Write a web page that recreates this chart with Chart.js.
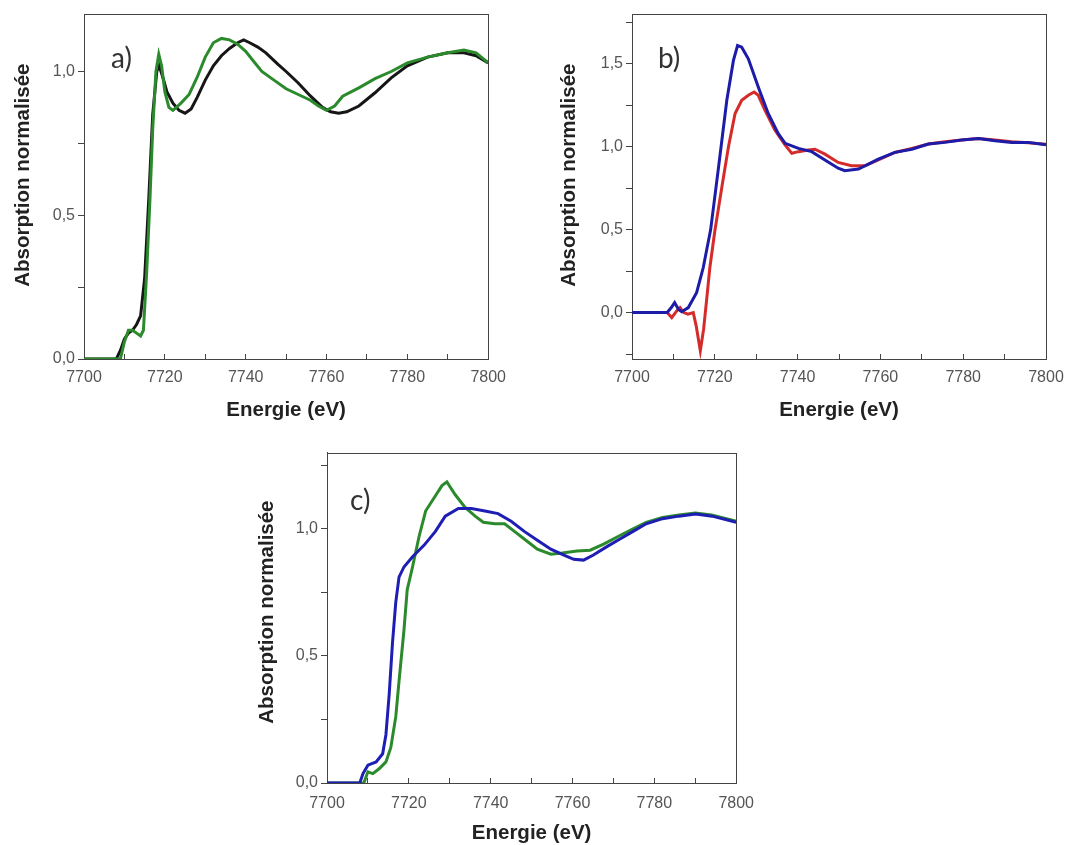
<!DOCTYPE html>
<html>
<head>
<meta charset="utf-8">
<script src="https://cdn.jsdelivr.net/npm/chart.js@4.4.0/dist/chart.umd.min.js"></script>
<style>
  body { margin: 0; background: #fff; width: 1085px; height: 845px; overflow: hidden; position: relative; }
  canvas { position: absolute; }
</style>
</head>
<body>
<canvas id="chartA" width="520" height="430" style="left:0;top:0"></canvas>
<canvas id="chartB" width="540" height="430" style="left:545px;top:0"></canvas>
<canvas id="chartC" width="530" height="405" style="left:240px;top:440px"></canvas>
<script>
// tick values
const energyTicks = [7700, 7710, 7720, 7730, 7740, 7750, 7760, 7770, 7780, 7790, 7800];
const yTicksA = [0, 0.25, 0.5, 0.75, 1.0];
const yTicksB = [-0.25, 0, 0.25, 0.5, 0.75, 1.0, 1.25, 1.5, 1.75];
const yTicksC = [0, 0.25, 0.5, 0.75, 1.0, 1.25];

// a) black and green spectra
const energyA_black = [7700, 7708, 7709, 7710, 7711, 7712, 7713, 7714, 7715, 7716, 7717, 7718, 7718.6, 7719.5, 7720.5, 7722, 7723.5, 7725, 7726.5, 7728, 7730, 7732, 7734, 7736, 7738, 7739.5, 7741, 7743, 7745, 7748, 7750, 7753, 7756, 7759, 7761, 7763, 7765, 7768, 7772, 7776, 7780, 7785, 7790, 7794, 7797, 7800];
const absA_black = [0, 0, 0.03, 0.07, 0.09, 0.1, 0.12, 0.15, 0.28, 0.55, 0.85, 1.0, 1.02, 0.98, 0.93, 0.89, 0.865, 0.855, 0.87, 0.91, 0.97, 1.02, 1.055, 1.08, 1.1, 1.11, 1.1, 1.085, 1.065, 1.025, 1.0, 0.96, 0.915, 0.875, 0.86, 0.855, 0.86, 0.88, 0.926, 0.978, 1.02, 1.05, 1.065, 1.065, 1.055, 1.03];
const energyA_green = [7700, 7709, 7710, 7711, 7712, 7713, 7714, 7714.7, 7715.5, 7716.3, 7717, 7717.8, 7718.5, 7719.2, 7720, 7721, 7722, 7724, 7726, 7728, 7730, 7732, 7734, 7736, 7738, 7740, 7742, 7744, 7747, 7750, 7753, 7756, 7758, 7760, 7762, 7764, 7768, 7772, 7776, 7780, 7785, 7790, 7794, 7797, 7800];
const absA_green = [0, 0, 0.06, 0.1, 0.1, 0.09, 0.08, 0.1, 0.3, 0.55, 0.8, 1.0, 1.06, 1.02, 0.93, 0.875, 0.865, 0.89, 0.92, 0.98, 1.05, 1.1, 1.115, 1.11, 1.095, 1.07, 1.035, 1.0, 0.97, 0.94, 0.92, 0.9, 0.88, 0.865, 0.88, 0.914, 0.943, 0.975, 1.0, 1.03, 1.05, 1.065, 1.075, 1.065, 1.03];

// b) blue and red spectra
const energyB_blue = [7700, 7708.5, 7709.5, 7710.3, 7711.2, 7712, 7713.6, 7715.6, 7717.2, 7719, 7720.9, 7722.9, 7724.5, 7725.5, 7726.5, 7728.1, 7730.5, 7732.9, 7735.3, 7737, 7740.2, 7743.4, 7746.6, 7749.8, 7751.4, 7754.7, 7759.5, 7763.5, 7767.6, 7771.6, 7775.6, 7779.6, 7783.7, 7787.7, 7791.7, 7795.7, 7800];
const absB_blue = [0, 0, 0.03, 0.06, 0.02, 0.005, 0.03, 0.12, 0.27, 0.5, 0.875, 1.28, 1.52, 1.61, 1.6, 1.53, 1.36, 1.2, 1.08, 1.02, 0.99, 0.97, 0.92, 0.87, 0.855, 0.865, 0.925, 0.966, 0.985, 1.016, 1.026, 1.04, 1.05, 1.036, 1.026, 1.026, 1.012];
const energyB_red = [7700, 7708.5, 7709.6, 7710.8, 7711.6, 7712.5, 7713.5, 7714.8, 7715.5, 7716.5, 7717.3, 7718.2, 7718.8, 7720, 7721.7, 7723.3, 7724.9, 7726.5, 7728.1, 7729.5, 7730.5, 7732.1, 7734.5, 7737, 7738.6, 7740.2, 7742.6, 7744.2, 7746.6, 7749.8, 7753, 7756.3, 7759.5, 7763.5, 7767.6, 7771.6, 7775.6, 7779.6, 7783.7, 7787.7, 7791.7, 7795.7, 7800];
const absB_red = [0, 0, -0.03, 0.01, 0.03, 0.0, -0.01, 0.0, -0.08, -0.23, -0.1, 0.12, 0.27, 0.49, 0.755, 1.0, 1.2, 1.28, 1.31, 1.33, 1.31, 1.22, 1.1, 1.01, 0.96, 0.97, 0.98, 0.985, 0.955, 0.905, 0.885, 0.885, 0.92, 0.965, 0.99, 1.016, 1.03, 1.04, 1.05, 1.04, 1.03, 1.024, 1.015];

// c) blue and green spectra
const energyC_blue = [7700, 7708, 7708.8, 7710, 7712, 7713.6, 7714.4, 7715.2, 7716, 7716.8, 7717.6, 7718.8, 7720.9, 7723.7, 7726.5, 7728.9, 7732.1, 7735.3, 7738.6, 7741.8, 7745, 7748.2, 7751.4, 7754.7, 7757.9, 7760.3, 7762.7, 7765.1, 7768.4, 7771.6, 7774.8, 7778, 7782, 7786, 7790.1, 7794.1, 7800];
const absC_blue = [0, 0, 0.037, 0.07, 0.083, 0.115, 0.19, 0.35, 0.55, 0.71, 0.81, 0.85, 0.89, 0.935, 0.99, 1.05, 1.08, 1.08, 1.07, 1.06, 1.03, 0.99, 0.955, 0.92, 0.897, 0.88, 0.877, 0.897, 0.93, 0.96, 0.99, 1.02, 1.04, 1.05, 1.058, 1.05, 1.026];
const energyC_green = [7700, 7709, 7710, 7711.2, 7712.8, 7714.4, 7715.6, 7716.8, 7717.6, 7718.8, 7719.6, 7720.9, 7722.5, 7724.1, 7726.5, 7728.1, 7729.3, 7731.3, 7733.7, 7736.2, 7738.2, 7741, 7743.4, 7745.8, 7748.2, 7751.4, 7754.7, 7757.5, 7761.1, 7764.3, 7767.6, 7771.6, 7774.8, 7778, 7782, 7786, 7790, 7794, 7800];
const absC_green = [0, 0, 0.044, 0.037, 0.057, 0.083, 0.14, 0.26, 0.4, 0.6, 0.76, 0.85, 0.97, 1.07, 1.13, 1.17, 1.185, 1.135, 1.085, 1.05, 1.026, 1.02, 1.02, 0.99, 0.96, 0.92, 0.9, 0.905, 0.913, 0.916, 0.94, 0.974, 1.0, 1.025, 1.045, 1.055, 1.062, 1.055, 1.03];

const FONT = "'Liberation Sans', Arial, sans-serif";

function pts(xs, ys) {
    return xs.map((x, i) => ({ x: x, y: ys[i] }));
}

function line(xs, ys, color) {
    return {
        data: pts(xs, ys),
        borderColor: color,
        borderWidth: 3,
        pointRadius: 0,
        showLine: true,
        tension: 0
    };
}

// box around plot + panel letter
const panelFrame = {
    id: 'panelFrame',
    beforeDatasetsDraw(chart) {
        const { ctx, chartArea: a } = chart;
        ctx.save();
        ctx.strokeStyle = '#444';
        ctx.lineWidth = 1;
        ctx.strokeRect(Math.round(a.left) + 0.5, Math.round(a.top) + 0.5, Math.round(a.width), Math.round(a.height));
        ctx.restore();
    },
    afterDraw(chart, args, opts) {
        const { ctx, chartArea: a } = chart;
        ctx.save();
        ctx.fillStyle = '#333';
        ctx.font = "28px Lato, 'Open Sans', sans-serif";
        ctx.textBaseline = 'middle';
        ctx.fillText(opts.text, a.left + opts.dx, a.top + opts.dy);
        ctx.restore();
    }
};

function makeOptions(p) {
    return {
        responsive: false,
        animation: false,
        layout: { padding: { top: p.top, right: p.right, left: 0, bottom: 0 } },
        plugins: {
            legend: { display: false },
            tooltip: { enabled: false },
            panelFrame: { text: p.label, dx: p.labelDx, dy: p.labelDy }
        },
        scales: {
            x: {
                type: 'linear',
                min: 7700,
                max: 7800,
                afterFit: s => { s.height = p.xHeight; },
                afterBuildTicks: s => { s.ticks = energyTicks.map(v => ({ value: v })); },
                ticks: {
                    autoSkip: false,
                    maxRotation: 0,
                    padding: p.xTickPad,
                    color: '#555',
                    font: { family: FONT, size: 16 },
                    callback: v => (v % 20 === 0 ? String(v) : '')
                },
                grid: { drawOnChartArea: false, tickLength: -5, color: '#444' },
                border: { color: '#444' },
                title: {
                    display: true,
                    text: 'Energie (eV)',
                    color: '#222',
                    font: { family: FONT, size: 20.5, weight: 'bold' },
                    padding: { top: 0, bottom: p.xTitlePad }
                }
            },
            y: {
                min: p.yMin,
                max: p.yMax,
                afterFit: s => { s.width = p.yWidth; },
                afterBuildTicks: s => { s.ticks = p.yTicks.map(v => ({ value: v })); },
                ticks: {
                    padding: 3,
                    color: '#555',
                    font: { family: FONT, size: 16 },
                    callback: v => (Math.abs(v * 2 - Math.round(v * 2)) < 1e-9 ? v.toFixed(1).replace('.', ',') : '')
                },
                grid: { drawOnChartArea: false, tickLength: 6, color: '#444' },
                border: { color: '#444' },
                title: {
                    display: true,
                    // leading spaces nudge the rotated title upward like the original
                    text: p.yTitleLead + 'Absorption normalisée',
                    color: '#222',
                    font: { family: FONT, size: 20.5, weight: 'bold' },
                    padding: { top: p.yTitlePad, bottom: 0 }
                }
            }
        }
    };
}

window.addEventListener('DOMContentLoaded', () => {
    new Chart(document.getElementById('chartA'), {
        type: 'scatter',
        data: { datasets: [
            line(energyA_green, absA_green, '#2b8a2b'),
            line(energyA_black, absA_black, '#161616')
        ] },
        options: makeOptions({ top: 14, right: 21, yWidth: 84, xHeight: 71, yMin: 0, yMax: 1.2, yTicks: yTicksA,
            xTickPad: 14, xTitlePad: 7, yTitlePad: 11, yTitleLead: '    ', label: 'a)', labelDx: 27, labelDy: 45 }),
        plugins: [panelFrame]
    });

    new Chart(document.getElementById('chartB'), {
        type: 'scatter',
        data: { datasets: [
            line(energyB_blue, absB_blue, '#1c1ca8'),
            line(energyB_red, absB_red, '#d62b2b')
        ] },
        options: makeOptions({ top: 14, right: 39, yWidth: 87, xHeight: 71, yMin: -0.28, yMax: 1.8, yTicks: yTicksB,
            xTickPad: 14, xTitlePad: 7, yTitlePad: 12, yTitleLead: '    ', label: 'b)', labelDx: 26, labelDy: 45 }),
        plugins: [panelFrame]
    });

    new Chart(document.getElementById('chartC'), {
        type: 'scatter',
        data: { datasets: [
            line(energyC_blue, absC_blue, '#1e1eb4'),
            line(energyC_green, absC_green, '#2b8a2b')
        ] },
        options: makeOptions({ top: 7, right: 29, yWidth: 87, xHeight: 62, yMin: 0, yMax: 1.3, yTicks: yTicksC,
            xTickPad: 16, xTitlePad: -1, yTitlePad: 15, yTitleLead: '  ', label: 'c)', labelDx: 23, labelDy: 48 }),
        plugins: [panelFrame]
    });
});
</script>
</body>
</html>
